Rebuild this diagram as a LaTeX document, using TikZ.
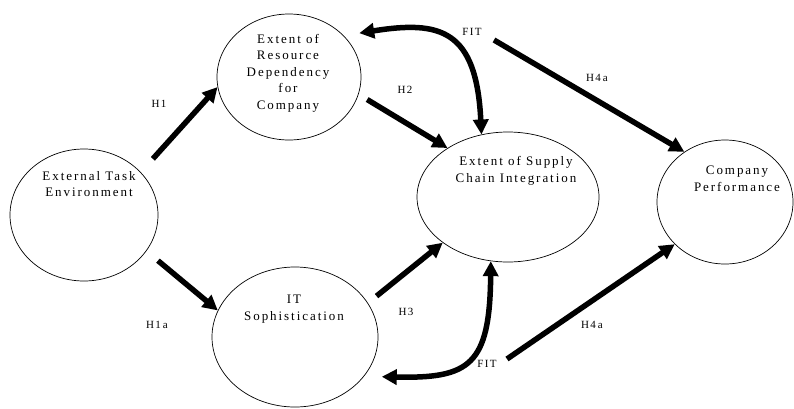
\documentclass[tikz,border=0pt]{standalone}
\usepackage{fontspec}
\setmainfont{Liberation Serif}
\newfontfamily\boxfont[LetterSpace=15]{Liberation Serif}
\newfontfamily\tagfont[LetterSpace=12]{Liberation Serif}
\usetikzlibrary{shapes.geometric,arrows.meta}

\tikzset{
  blob/.style={ellipse, draw, line width=0.7pt, inner sep=0pt},
  txt/.style={font=\boxfont\fontsize{13}{16.5}\selectfont, align=center, inner sep=0pt},
  tag/.style={font=\tagfont\fontsize{11}{13}\selectfont, inner sep=0pt},
  link/.style={line width=5.5pt, -{Triangle[length=15pt,width=15pt]}},
  fitlink/.style={line width=5.5pt, {Triangle[length=15pt,width=15pt]}-{Triangle[length=15pt,width=15pt]}}
}

\begin{document}
\begin{tikzpicture}[x=1pt, y=-1pt]
\useasboundingbox (0,0) rectangle (794,408);

% constructs
\node[blob, minimum width=148pt, minimum height=132pt] (ext)  at (84,215) {};
\node[blob, minimum width=144pt, minimum height=126pt] (res)  at (289,77) {};
\node[blob, minimum width=182pt, minimum height=130pt] (sci)  at (508,197) {};
\node[blob, minimum width=136pt, minimum height=124pt] (perf) at (725,202) {};
\node[blob, minimum width=166pt, minimum height=140pt] (its)  at (295,337) {};

% construct names
\node[txt] (extT)  at (89,184)  {External Task\\Environment};
\node[txt] (resT)  at (288,73)  {Extent of\\Resource\\Dependency\\for\\Company};
\node[txt] (sciT)  at (516,171) {Extent of Supply\\Chain Integration};
\node[txt] (perfT) at (737,179) {Company\\Performance};
\node[txt] (itsT)  at (294,309) {IT\\Sophistication};

% hypothesis labels
\node[tag] (h1)    at (159,104) {H1};
\node[tag] (h1a)   at (157,325) {H1\kern2pt a};
\node[tag] (h2)    at (405,90)  {H2};
\node[tag] (h3)    at (406,312) {H3};
\node[tag] (fitA)  at (472,32)  {FIT};
\node[tag] (h4a)   at (597,78)  {H4\kern2pt a};
\node[tag] (fitB)  at (487,364) {FIT};
\node[tag] (h4b)   at (592,325) {H4\kern2pt a};

% starts of the fit-to-performance paths
\coordinate (h4top) at (494,40);
\coordinate (h4bot) at (507,359);

% hypothesised paths
\draw[link, shorten <=18pt] (ext.37)  -- (res.188);
\draw[link, shorten <=15pt] (ext.-30) -- (its.161);
\draw[link, shorten <=10pt] (res.-14) -- (sci.141);
\draw[link, shorten <=11pt] (its.25)  -- (sci.215);
\draw[link] (h4top) -- (perf.129);
\draw[link] (h4bot) -- (perf.220);

% fit relations
\draw[fitlink] ([xshift=18pt]res.40) .. controls +(81,-13) and +(-5,-105) .. (sci.113);
\draw[fitlink] ([xshift=18pt]its.-30) .. controls +(88,2) and +(-1,104) .. (sci.255);
\end{tikzpicture}
\end{document}
